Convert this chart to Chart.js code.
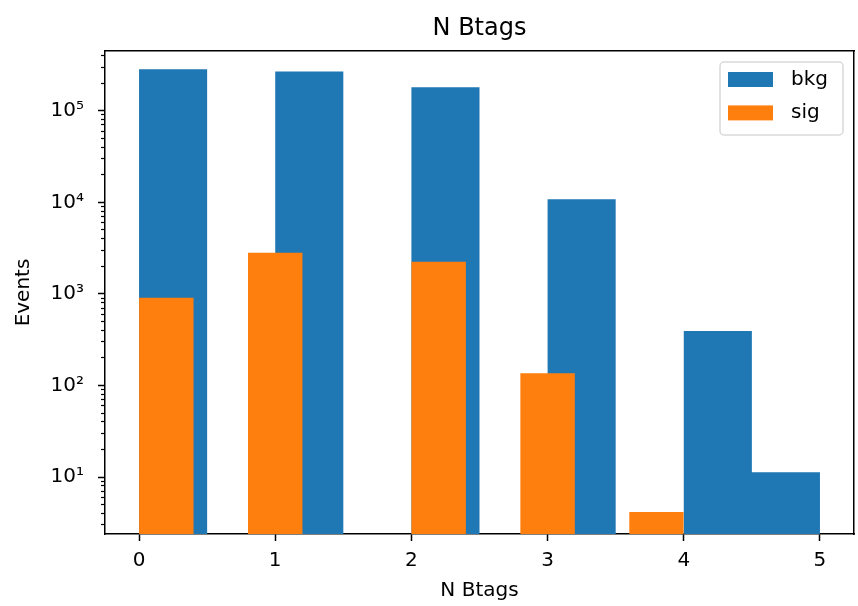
<!DOCTYPE html>
<html>
<head>
<meta charset="utf-8">
<script src="https://cdn.jsdelivr.net/npm/chart.js@4/dist/chart.umd.min.js"></script>
<style>
  body { margin: 0; background: #fff; }
</style>
</head>
<body>
<canvas id="btagChart" width="858" height="606"></canvas>
<script>
// histogram bins and counts
const bkgEdges = [0, 0.5, 1, 1.5, 2, 2.5, 3, 3.5, 4, 4.5, 5];
const bkgCounts = [283000, 0, 269000, 0, 180000, 0, 10800, 0, 394, 11.3];
const sigEdges = [0, 0.4, 0.8, 1.2, 1.6, 2.0, 2.4, 2.8, 3.2, 3.6, 4.0];
const sigCounts = [910, 0, 2820, 0, 0, 2250, 0, 136, 0, 4.16];

const xTicks = [0, 1, 2, 3, 4, 5];
const xTickLabels = ['0', '1', '2', '3', '4', '5'];
const yTicks = [10, 100, 1000, 10000, 100000];
const yTickLabels = ['10¹', '10²', '10³', '10⁴', '10⁵'];

const X_MIN = -0.25, X_MAX = 5.25;
const Y_MIN = 2.39, Y_MAX = 449000;

// minor log ticks 2..9 x 10^n inside the range
const yMinorTicks = [];
for (let e = 0; e <= 5; e++) {
    for (let k = 2; k <= 9; k++) {
        const v = k * Math.pow(10, e);
        if (v > Y_MIN && v < Y_MAX) yMinorTicks.push(v);
    }
}

// turn bins into a step outline so the fill draws the bars
function histPoints(edges, counts) {
    const pts = [];
    counts.forEach(function(c, i) {
        if (c <= 0) return;
        pts.push({x: edges[i], y: Y_MIN}, {x: edges[i], y: c},
                 {x: edges[i + 1], y: c}, {x: edges[i + 1], y: Y_MIN});
    });
    return pts;
}

const FONT = {family: '"DejaVu Sans", sans-serif', size: 20};
Chart.defaults.color = '#000';

const boxLegend = {
    id: 'boxLegend',
    afterDraw(chart) {
        const ctx = chart.ctx, a = chart.chartArea;
        const w = 123, h = 73;
        const x = a.right - 11 - w, y = a.top + 11;
        ctx.save();
        ctx.beginPath();
        ctx.roundRect(x, y, w, h, 4);
        ctx.fillStyle = 'rgba(255,255,255,0.8)';
        ctx.fill();
        ctx.strokeStyle = '#d9d9d9';
        ctx.lineWidth = 1.5;
        ctx.stroke();
        ctx.font = '20px "DejaVu Sans", sans-serif';
        ctx.textBaseline = 'middle';
        chart.data.datasets.forEach(function(ds, i) {
            const ry = y + 10 + i * 33.4;
            ctx.fillStyle = ds.backgroundColor;
            ctx.fillRect(x + 8, ry, 45, 15);
            ctx.fillStyle = '#000';
            ctx.fillText(ds.label, x + 71, ry + 7.5);
        });
        ctx.restore();
    }
};

const spine = {display: true, color: '#000', width: 1.5};

new Chart(document.getElementById('btagChart').getContext('2d'), {
    type: 'line',
    data: {
        datasets: [{
            label: 'bkg',
            data: histPoints(bkgEdges, bkgCounts),
            backgroundColor: '#1f77b4',
            borderWidth: 0,
            pointRadius: 0,
            fill: 'start',
            tension: 0,
            order: 2
        }, {
            label: 'sig',
            data: histPoints(sigEdges, sigCounts),
            backgroundColor: '#ff7f0e',
            borderWidth: 0,
            pointRadius: 0,
            fill: 'start',
            tension: 0,
            order: 1
        }]
    },
    options: {
        responsive: false,
        animation: false,
        events: [],
        layout: {padding: 0},
        plugins: {
            legend: {display: false},
            tooltip: {enabled: false},
            title: {display: false}
        },
        scales: {
            x: {
                type: 'linear', position: 'bottom', min: X_MIN, max: X_MAX, bounds: 'data', z: 1,
                afterBuildTicks: s => { s.ticks = xTicks.map(v => ({value: v})); },
                afterFit: s => { s.height = 72; },
                ticks: {autoSkip: false, maxRotation: 0, padding: 8, font: FONT, color: '#000',
                        callback: (v, i) => xTickLabels[i]},
                grid: {drawOnChartArea: false, tickLength: 7, tickWidth: 1.5, tickColor: '#000'},
                border: spine,
                title: {display: true, text: 'N Btags', font: FONT, color: '#000', padding: {top: 0, bottom: 3}}
            },
            xTop: {
                type: 'linear', position: 'top', min: X_MIN, max: X_MAX, z: 1,
                afterFit: s => { s.height = 51; },
                ticks: {display: false},
                grid: {drawOnChartArea: false, drawTicks: false},
                border: spine,
                title: {display: true, text: 'N Btags', color: '#000',
                        font: {family: FONT.family, size: 24}, padding: {top: 14, bottom: 0}}
            },
            y: {
                type: 'logarithmic', position: 'left', min: Y_MIN, max: Y_MAX, bounds: 'data',
                weight: 1, z: 1,
                afterBuildTicks: s => { s.ticks = yTicks.map(v => ({value: v})); },
                afterFit: s => { s.width = 105; },
                ticks: {autoSkip: false, padding: 14, font: FONT, color: '#000',
                        callback: (v, i) => yTickLabels[i]},
                grid: {drawOnChartArea: false, tickLength: 7, tickWidth: 1.5, tickColor: '#000'},
                border: spine,
                title: {display: true, text: 'Events', font: FONT, color: '#000', padding: {top: 12, bottom: 0}}
            },
            yMinor: {
                type: 'logarithmic', position: 'left', min: Y_MIN, max: Y_MAX, bounds: 'data',
                weight: 0, z: 1,
                afterBuildTicks: s => { s.ticks = yMinorTicks.map(v => ({value: v})); },
                afterFit: s => { s.width = 0; },
                ticks: {display: false, autoSkip: false},
                grid: {drawOnChartArea: false, tickLength: 4, tickWidth: 1.2, tickColor: '#000'},
                border: {display: false}
            },
            yRight: {
                type: 'linear', position: 'right', min: 0, max: 1, z: 1,
                afterFit: s => { s.width = 4; },
                ticks: {display: false},
                grid: {drawOnChartArea: false, drawTicks: false},
                border: spine
            }
        }
    },
    plugins: [boxLegend]
});
</script>
</body>
</html>
